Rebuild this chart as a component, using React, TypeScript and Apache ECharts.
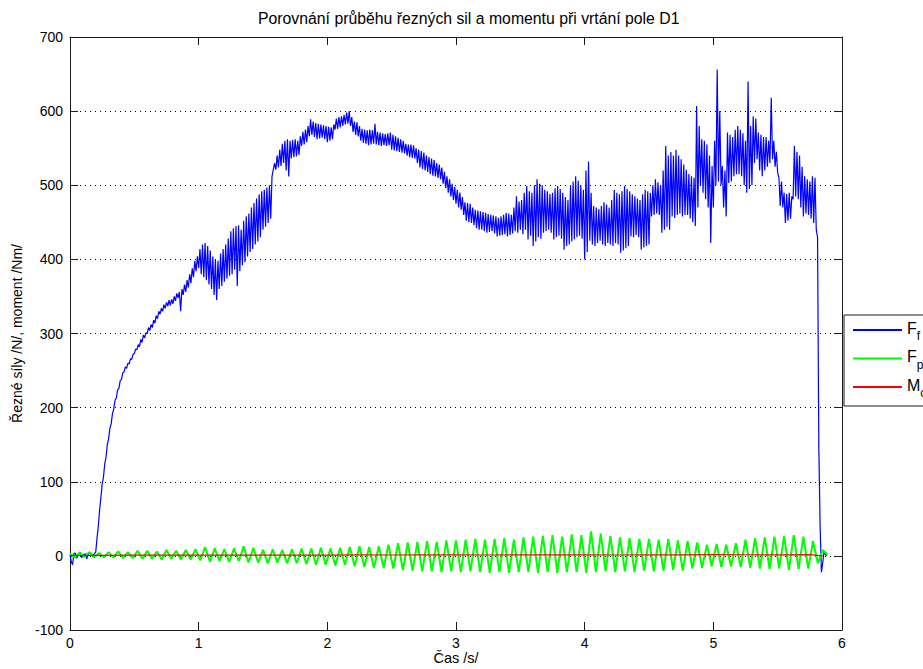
import { useEffect, useRef } from 'react';
import * as echarts from 'echarts';

const FONT = '"Liberation Sans", Arial, Helvetica, sans-serif';

const TITLE = 'Porovnání průběhu řezných sil a momentu při vrtání pole D1';
const X_NAME = 'Čas /s/';
const Y_NAME = 'Řezné síly /N/, moment /Nm/';
const SERIES_NAMES = ['Ff', 'Fp', 'Mc'];
const SERIES_COLORS = ['#0000ff', '#00ff00', '#ff0000'];

const X_MIN = 0;
const X_MAX = 6;
const X_STEP = 1;
const Y_MIN = -100;
const Y_MAX = 700;
const Y_STEP = 100;

// Feed force Ff /N/, sampled every 0.01 s from t = 0 (one row = 0.2 s)
const FF_STEP = 0.01;
const ffValues = [
  2, -8, -12, 3, 4, -3, -1, 4, 5, -2, -1, 2, 3, -4, 1, 4, 4, 0, 1, 3,
  5, 24, 40, 62, 78, 97, 106, 124, 133, 150, 158, 172, 178, 192, 198, 210, 213, 224, 226, 236,
  238, 247, 248, 255, 253, 260, 259, 266, 265, 272, 273, 279, 278, 285, 282, 292, 288, 298, 294, 301,
  300, 308, 304, 312, 308, 318, 314, 324, 320, 330, 326, 334, 330, 339, 334, 342, 337, 345, 338, 346,
  340, 350, 344, 354, 348, 356, 330, 360, 352, 366, 356, 372, 362, 380, 368, 388, 376, 398, 384, 404,
  388, 414, 380, 420, 376, 422, 372, 418, 366, 412, 360, 404, 352, 400, 345, 398, 360, 408, 364, 414,
  370, 420, 374, 428, 378, 438, 380, 442, 386, 445, 364, 446, 384, 440, 392, 452, 396, 458, 404, 462,
  410, 470, 414, 476, 420, 482, 424, 488, 430, 492, 440, 494, 444, 497, 449, 500, 455, 512, 521, 530,
  521, 540, 524, 548, 526, 556, 530, 560, 520, 562, 512, 560, 536, 561, 538, 562, 539, 560, 541, 566,
  553, 572, 555, 575, 558, 580, 566, 589, 568, 586, 565, 584, 562, 583, 563, 582, 564, 581, 562, 580,
  558, 579, 560, 578, 562, 582, 575, 590, 576, 592, 578, 593, 580, 595, 582, 598, 583, 600, 580, 592,
  572, 586, 568, 585, 566, 580, 560, 576, 557, 575, 556, 574, 554, 575, 555, 574, 556, 583, 555, 572,
  554, 571, 553, 570, 554, 569, 553, 570, 554, 571, 548, 568, 547, 566, 546, 564, 545, 562, 544, 560,
  543, 556, 540, 555, 538, 555, 537, 554, 536, 550, 530, 548, 524, 546, 522, 544, 520, 540, 518, 538,
  515, 536, 513, 534, 512, 530, 510, 528, 508, 524, 502, 518, 496, 512, 490, 508, 485, 502, 480, 498,
  475, 494, 470, 490, 467, 484, 460, 477, 452, 476, 450, 475, 449, 470, 446, 467, 442, 466, 440, 465,
  440, 464, 438, 463, 436, 461, 437, 460, 438, 459, 435, 458, 431, 456, 432, 458, 433, 460, 434, 463,
  431, 462, 433, 460, 435, 470, 438, 485, 436, 478, 440, 480, 434, 490, 440, 499, 427, 492, 432, 490,
  418, 500, 424, 508, 430, 502, 428, 500, 436, 494, 438, 492, 440, 488, 436, 490, 427, 496, 430, 499,
  432, 495, 428, 490, 413, 484, 418, 480, 420, 500, 424, 505, 427, 512, 430, 506, 432, 500, 428, 494,
  400, 520, 410, 532, 425, 490, 420, 472, 418, 470, 422, 468, 425, 472, 420, 477, 418, 474, 422, 470,
  420, 480, 418, 494, 422, 490, 420, 488, 409, 492, 412, 499, 415, 495, 418, 492, 431, 488, 430, 485,
  433, 482, 430, 480, 413, 488, 416, 494, 418, 492, 420, 490, 458, 500, 460, 508, 462, 504, 460, 500,
  436, 520, 440, 553, 444, 540, 440, 545, 458, 540, 456, 548, 460, 540, 462, 535, 458, 528, 460, 521,
  460, 515, 455, 512, 450, 510, 445, 607, 470, 580, 500, 562, 490, 560, 481, 555, 470, 540, 422, 526,
  470, 560, 500, 656, 505, 600, 500, 526, 470, 520, 458, 571, 503, 568, 505, 565, 512, 575, 515, 580,
  515, 575, 512, 570, 500, 560, 490, 640, 495, 580, 500, 593, 530, 590, 535, 571, 520, 568, 512, 565,
  520, 565, 525, 560, 530, 618, 535, 560, 525, 545, 517, 510, 472, 505, 470, 490, 449, 488, 452, 490,
  455, 485, 481, 553, 485, 545, 481, 540, 470, 525, 458, 512, 462, 508, 460, 505, 455, 512, 449, 510,
  440, 430, 145, 40, -22, -10, 6, 2, 0,
];

// Passive force Fp /N/, sampled every 0.0375 s (peaks and troughs of the oscillation)
const FP_STEP = 0.0375;
const fpValues = [
  3, -2, 4, -1, 5, -2, 4, -2,
  5, -2, 6, -3, 5, -3, 7, -4,
  7, -4, 6, -5, 8, -4, 7, -5,
  8, -5, 9, -6, 12, -8, 10, -7,
  9, -8, 10, -7, 13, -9, 11, -9,
  8, -10, 9, -9, 8, -10, 9, -10,
  10, -11, 10, -12, 11, -12, 10, -13,
  11, -12, 12, -14, 13, -15, 12, -16,
  13, -16, 15, -17, 17, -19, 18, -20,
  19, -21, 20, -21, 19, -22, 21, -21,
  21, -22, 22, -21, 23, -22, 22, -23,
  23, -22, 24, -23, 22, -22, 25, -22,
  26, -23, 27, -22, 28, -23, 26, -22,
  29, -22, 28, -23, 33, -22, 30, -21,
  27, -22, 25, -21, 24, -22, 23, -20,
  23, -21, 22, -20, 23, -19, 21, -20,
  20, -17, 18, -16, 15, -14, 16, -15,
  15, -14, 17, -15, 22, -16, 24, -17,
  25, -18, 26, -17, 27, -19, 28, -18,
  26, -17, 20, -10, 8, 2,
];

// Cutting moment Mc /Nm/
const mcTimes = [
  0, 0.25, 0.5, 0.75, 1, 1.25, 1.5, 1.75, 2, 2.25, 2.5, 2.75,
  3, 3.25, 3.5, 3.75, 4, 4.25, 4.5, 4.75, 5, 5.25, 5.5, 5.75, 5.85,
];
const mcValues = [
  0.5, 0.8, 1.0, 1.0, 1.2, 1.0, 1.1, 1.2, 1.0, 1.3, 1.2, 1.4,
  1.3, 1.2, 1.5, 1.3, 1.4, 1.2, 1.5, 1.4, 1.6, 1.5, 1.3, 1.8, 0,
];

const sampled = (step: number, values: number[]) =>
  values.map((v, i) => [Math.round(i * step * 10000) / 10000, v]);

const paired = (times: number[], values: number[]) =>
  values.map((v, i) => [times[i], v]);

const AXIS_COLOR = '#1a1a1a';

export default function App() {
  const ref = useRef<HTMLDivElement>(null);

  useEffect(() => {
    if (!ref.current) return;
    const chart = echarts.init(ref.current, null, { renderer: 'svg' });

    const axisLine = { show: true, onZero: false, lineStyle: { color: AXIS_COLOR, width: 1 } };
    const axisTick = { show: true, inside: true, length: 8, lineStyle: { color: AXIS_COLOR } };
    const label = { color: '#000', fontFamily: FONT, fontSize: 14 };

    const lineSeries = (idx: number, data: number[][], width: number) => ({
      name: SERIES_NAMES[idx],
      type: 'line',
      data,
      symbol: 'none',
      showSymbol: false,
      color: SERIES_COLORS[idx],
      lineStyle: { color: SERIES_COLORS[idx], width },
      emphasis: { disabled: true },
      silent: true,
      z: 2 + idx,
    });

    chart.setOption({
      animation: false,
      backgroundColor: '#ffffff',
      textStyle: { fontFamily: FONT },
      title: {
        text: TITLE,
        left: 253,
        top: 5,
        textStyle: { fontFamily: FONT, fontSize: 15.8, fontWeight: 'normal', color: '#000' },
      },
      legend: {
        orient: 'vertical',
        left: 844,
        top: 315,
        padding: [5, 40, 7, 9],
        itemGap: 6.5,
        itemWidth: 49,
        itemHeight: 2,
        icon: 'rect',
        borderColor: '#1a1a1a',
        borderWidth: 1,
        backgroundColor: '#ffffff',
        selectedMode: false,
        data: SERIES_NAMES,
        formatter: (name: string) => `{m|${name[0]}}{s|${name.slice(1)}}`,
        textStyle: {
          color: '#000',
          fontFamily: FONT,
          rich: {
            m: { fontSize: 16, lineHeight: 20, verticalAlign: 'top', fontFamily: FONT, color: '#000' },
            s: {
              fontSize: 12,
              lineHeight: 12,
              verticalAlign: 'top',
              padding: [10, 0, 0, 0],
              fontFamily: FONT,
              color: '#000',
            },
          },
        },
      },
      grid: {
        left: 70,
        right: 81,
        top: 37,
        bottom: 39,
        show: false,
        outerBoundsMode: 'none',
        containLabel: false,
      },
      xAxis: [
        {
          type: 'value',
          position: 'bottom',
          min: X_MIN,
          max: X_MAX,
          interval: X_STEP,
          name: X_NAME,
          nameLocation: 'middle',
          nameGap: 21,
          nameMoveOverlap: false,
          nameTextStyle: { ...label, fontSize: 14.5, lineHeight: 14 },
          axisLine,
          axisTick,
          axisLabel: { ...label, lineHeight: 14, margin: 6 },
          splitLine: { show: false },
        },
        {
          type: 'value',
          position: 'top',
          min: X_MIN,
          max: X_MAX,
          interval: X_STEP,
          axisLine,
          axisTick,
          axisLabel: { show: false },
          splitLine: { show: false },
        },
      ],
      yAxis: [
        {
          type: 'value',
          position: 'left',
          min: Y_MIN,
          max: Y_MAX,
          interval: Y_STEP,
          name: Y_NAME,
          nameLocation: 'middle',
          nameGap: 46,
          nameMoveOverlap: false,
          nameTextStyle: { ...label },
          axisLine,
          axisTick,
          axisLabel: { ...label, margin: 7 },
          splitLine: { show: true, lineStyle: { color: '#000', width: 1, type: [1, 4] } },
        },
        {
          type: 'value',
          position: 'right',
          min: Y_MIN,
          max: Y_MAX,
          interval: Y_STEP,
          axisLine,
          axisTick,
          axisLabel: { show: false },
          splitLine: { show: false },
        },
      ],
      series: [
        lineSeries(0, sampled(FF_STEP, ffValues), 1.2),
        lineSeries(1, sampled(FP_STEP, fpValues), 2),
        lineSeries(2, paired(mcTimes, mcValues), 1.2),
      ],
    });

    return () => chart.dispose();
  }, []);

  return (
    <div
      ref={ref}
      style={{ position: 'fixed', left: 0, top: 0, width: 923, height: 669, background: '#fff' }}
    />
  );
}
